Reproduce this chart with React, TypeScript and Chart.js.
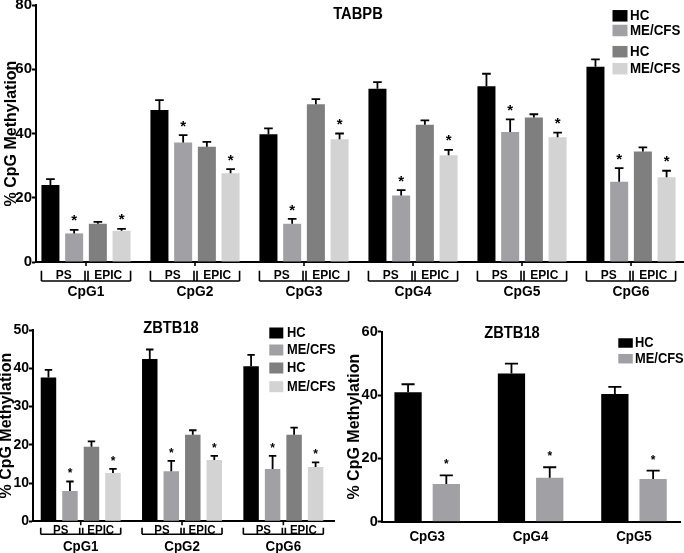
import React, { useEffect, useRef } from 'react';
import { Chart, registerables } from 'chart.js';

Chart.register(...registerables);

const FAMILY = '"Liberation Sans", Arial, Helvetica, sans-serif';

// ---------------- TABPB (top panel) ----------------
const tabpbCategories = ['CpG1', 'CpG2', 'CpG3', 'CpG4', 'CpG5', 'CpG6'];
const tabpbPsHC = [24.0, 47.3, 39.8, 53.9, 54.7, 60.8];
const tabpbPsHCErr = [1.8, 3.1, 1.8, 2.1, 3.9, 2.3];
const tabpbPsME = [8.9, 37.2, 11.9, 20.7, 40.5, 25.0];
const tabpbPsMEErr = [1.1, 2.3, 1.5, 1.7, 3.9, 4.2];
const tabpbEpicHC = [11.9, 35.9, 49.1, 42.7, 45.0, 34.4];
const tabpbEpicHCErr = [0.6, 1.5, 1.6, 1.4, 1.0, 1.3];
const tabpbEpicME = [9.7, 27.6, 38.2, 33.2, 38.8, 26.4];
const tabpbEpicMEErr = [0.6, 1.3, 1.8, 1.7, 1.5, 2.0];
const tabpbYTicks = [0, 20, 40, 60, 80];

// ---------------- ZBTB18 (bottom left, PS vs EPIC) ----------------
const zbtbPlatformCategories = ['CpG1', 'CpG2', 'CpG6'];
const zbtbPsHC = [37.6, 42.4, 40.5];
const zbtbPsHCErr = [2.0, 2.5, 3.0];
const zbtbPsME = [7.9, 13.1, 13.7];
const zbtbPsMEErr = [2.5, 2.7, 3.4];
const zbtbEpicHC = [19.5, 22.6, 22.6];
const zbtbEpicHCErr = [1.4, 1.2, 1.9];
const zbtbEpicME = [12.6, 16.0, 14.2];
const zbtbEpicMEErr = [1.1, 1.1, 1.2];
const zbtbPlatformYTicks = [0, 10, 20, 30, 40, 50];

// ---------------- ZBTB18 (bottom right) ----------------
const zbtbCategories = ['CpG3', 'CpG4', 'CpG5'];
const zbtbHC = [40.9, 46.8, 40.3];
const zbtbHCErr = [2.5, 3.1, 2.3];
const zbtbME = [11.9, 13.9, 13.5];
const zbtbMEErr = [2.7, 3.3, 2.6];
const zbtbYTicks = [0, 20, 40, 60];

const groupLabels = ['HC', 'ME/CFS', 'HC', 'ME/CFS'];
const platformLabels = ['PS', 'EPIC'];
const yAxisTitle = '% CpG Methylation';

const COLORS = ['#000000', '#a1a1a5', '#7f7f7f', '#d3d3d3'];
const SX = 0.92; // slight horizontal text squeeze, as in the source figure

function drawText(ctx: any, s: string, x: number, y: number, size: number, align: string, baseline: string, sx = SX) {
  ctx.save();
  ctx.font = `bold ${size}px ${FAMILY}`;
  ctx.fillStyle = '#000';
  ctx.textAlign = align;
  ctx.textBaseline = baseline;
  ctx.translate(x, y);
  ctx.scale(sx, 1);
  ctx.fillText(s, 0, 0);
  ctx.restore();
}

function makeSeries(values: number[][], errors: number[][], starred: boolean[]) {
  return values.map((v, i) => ({ label: groupLabels[i], values: v, errors: errors[i], color: COLORS[i], star: starred[i] }));
}

const panels: any[] = [
  {
    key: 'tabpb', left: 0, top: 0, width: 684, height: 300,
    categories: tabpbCategories,
    series: makeSeries([tabpbPsHC, tabpbPsME, tabpbEpicHC, tabpbEpicME], [tabpbPsHCErr, tabpbPsMEErr, tabpbEpicHCErr, tabpbEpicMEErr], [false, true, false, true]),
    yTicks: tabpbYTicks, title: 'TABPB',
    xRange: [-0.4587, 5.486], yWidth: 36, xHeight: 38, padTop: 5, padRight: 0,
    catPct: 0.87, barPct: 0.76, yTitlePad: 1.5, yTitleLH: 1.2, yTitleSize: 16, tickSize: 15,
    titlePos: [358, 15], titleSize: 16,
    legendX: 612.5, legendYs: [15.8, 30.5, 51.7, 68.7], legendBox: [15, 11.5], legendTextX: 630, legendSize: 14.5,
    platforms: true, bracketTop: 8.7, bracketBottom: 19, subBaseline: 17.3, subSize: 13,
    catBaseline: 33.8, catSize: 15, starGap: 13, starSize: 15,
  },
  {
    key: 'zbtbA', left: 0, top: 300, width: 340, height: 253,
    categories: zbtbPlatformCategories,
    series: makeSeries([zbtbPsHC, zbtbPsME, zbtbEpicHC, zbtbEpicME], [zbtbPsHCErr, zbtbPsMEErr, zbtbEpicHCErr, zbtbEpicMEErr], [false, true, false, true]),
    yTicks: zbtbPlatformYTicks, title: 'ZBTB18',
    xRange: [-0.471, 2.5], yWidth: 33, xHeight: 31.7, padTop: 30, padRight: 6,
    catPct: 0.849, barPct: 0.72, yTitlePad: 0, yTitleLH: 0.8, yTitleSize: 16, tickSize: 14,
    titlePos: [171, 28.5], titleSize: 16,
    legendX: 269.3, legendYs: [33, 50, 68, 86.7], legendBox: [14, 11], legendTextX: 287, legendSize: 14,
    platforms: true, bracketTop: 6.5, bracketBottom: 13, subBaseline: 12.3, subSize: 12.5,
    catBaseline: 29.3, catSize: 14.5, starGap: 11, starSize: 12,
  },
  {
    key: 'zbtbB', left: 340, top: 300, width: 344, height: 253,
    categories: zbtbCategories,
    series: makeSeries([zbtbHC, zbtbME], [zbtbHCErr, zbtbMEErr], [false, true]),
    yTicks: zbtbYTicks, title: 'ZBTB18',
    xRange: [-0.44, 2.445], yWidth: 41.7, xHeight: 31.3, padTop: 31.7, padRight: 4,
    catPct: 0.74, barPct: 0.713, yTitlePad: 5.4, yTitleLH: 1.2, yTitleSize: 16, tickSize: 14.5,
    titlePos: [172, 33.5], titleSize: 16,
    legendX: 278.3, legendYs: [43, 58.7], legendBox: [14.5, 9.5], legendTextX: 295, legendSize: 14,
    platforms: false, bracketTop: 0, bracketBottom: 0, subBaseline: 0, subSize: 12,
    catBaseline: 19.3, catSize: 14.5, starGap: 14, starSize: 12,
  },
];

function makePlugin(p: any) {
  return {
    id: 'panelDecor_' + p.key,
    afterDatasetsDraw(chart: any) {
      const ctx = chart.ctx;
      const ys = chart.scales.y;
      ctx.save();
      ctx.strokeStyle = '#000';
      ctx.lineWidth = 1.8;
      p.series.forEach((s: any, i: number) => {
        const meta = chart.getDatasetMeta(i);
        meta.data.forEach((el: any, j: number) => {
          const { x, y, width } = el.getProps(['x', 'y', 'width'], true);
          const eTop = ys.getPixelForValue(s.values[j] + s.errors[j]);
          const cap = width * 0.48;
          ctx.beginPath();
          ctx.moveTo(x, y);
          ctx.lineTo(x, eTop);
          ctx.moveTo(x - cap / 2, eTop);
          ctx.lineTo(x + cap / 2, eTop);
          ctx.stroke();
          if (s.star) {
            drawText(ctx, '*', x, eTop - p.starGap + 0.57 * p.starSize, p.starSize, 'center', 'alphabetic', 1);
          }
        });
      });
      ctx.restore();
    },
    afterDraw(chart: any) {
      const ctx = chart.ctx;
      const xs = chart.scales.x;
      const axisY = chart.chartArea.bottom;
      // title
      drawText(ctx, p.title, p.titlePos[0], p.titlePos[1], p.titleSize, 'center', 'middle');
      // legend
      p.series.forEach((s: any, i: number) => {
        const cy = p.legendYs[i];
        ctx.fillStyle = s.color;
        ctx.fillRect(p.legendX, cy - p.legendBox[1] / 2, p.legendBox[0], p.legendBox[1]);
        drawText(ctx, s.label, p.legendTextX, cy, p.legendSize, 'left', 'middle');
      });
      // category labels + platform brackets
      const first = chart.getDatasetMeta(0);
      const last = chart.getDatasetMeta(p.series.length - 1);
      ctx.save();
      ctx.strokeStyle = '#000';
      ctx.lineWidth = 1.6;
      p.categories.forEach((c: string, j: number) => {
        const cx = xs.getPixelForValue(j);
        drawText(ctx, c, cx, axisY + p.catBaseline, p.catSize, 'center', 'alphabetic');
        if (p.platforms) {
          const b0 = first.data[j].getProps(['x', 'width'], true);
          const b1 = last.data[j].getProps(['x', 'width'], true);
          const l = b0.x - b0.width / 2;
          const r = b1.x + b1.width / 2;
          ctx.beginPath();
          ctx.moveTo(cx, axisY);
          ctx.lineTo(cx, axisY + 4);
          [l, cx - 1, cx + 2, r].forEach((vx) => {
            ctx.moveTo(vx, axisY + p.bracketTop);
            ctx.lineTo(vx, axisY + p.bracketBottom);
          });
          ctx.moveTo(l, axisY + p.bracketBottom);
          ctx.lineTo(r, axisY + p.bracketBottom);
          ctx.stroke();
          drawText(ctx, platformLabels[0], (l + cx) / 2, axisY + p.subBaseline, p.subSize, 'center', 'alphabetic');
          drawText(ctx, platformLabels[1], (cx + r) / 2, axisY + p.subBaseline, p.subSize, 'center', 'alphabetic');
        }
      });
      ctx.restore();
    },
  };
}

function buildConfig(p: any): any {
  const yMax = p.yTicks[p.yTicks.length - 1];
  const yStep = p.yTicks[1] - p.yTicks[0];
  return {
    type: 'bar',
    data: {
      datasets: p.series.map((s: any) => ({
        label: s.label,
        data: s.values.map((v: number, j: number) => ({ x: j, y: v })),
        backgroundColor: s.color,
        borderWidth: 0,
        categoryPercentage: p.catPct,
        barPercentage: p.barPct,
      })),
    },
    options: {
      responsive: false,
      animation: false,
      devicePixelRatio: 1,
      events: [],
      layout: { padding: { top: p.padTop, right: p.padRight, left: 0, bottom: 0 } },
      plugins: { legend: { display: false }, tooltip: { enabled: false }, title: { display: false } },
      scales: {
        x: {
          type: 'linear',
          min: p.xRange[0],
          max: p.xRange[1],
          offset: false,
          ticks: { display: false, stepSize: 1, includeBounds: false },
          grid: { display: false },
          border: { display: true, color: '#000', width: 2 },
          afterFit: (s: any) => { s.height = p.xHeight; s.paddingLeft = 0; s.paddingRight = 0; },
        },
        y: {
          type: 'linear',
          min: 0,
          max: yMax,
          ticks: { stepSize: yStep, color: '#000', padding: 0, font: { family: FAMILY, size: p.tickSize, weight: 'bold' } },
          grid: { display: true, drawOnChartArea: false, drawTicks: true, tickLength: 4, tickColor: '#000', tickWidth: 2 },
          border: { display: true, color: '#000', width: 2 },
          title: {
            display: true,
            text: yAxisTitle,
            color: '#000',
            font: { family: FAMILY, size: p.yTitleSize, weight: 'bold', lineHeight: p.yTitleLH },
            padding: { top: p.yTitlePad, bottom: 0 },
          },
          afterFit: (s: any) => { s.width = p.yWidth; s.paddingTop = 0; s.paddingBottom = 0; },
        },
      },
    },
    plugins: [makePlugin(p)],
  };
}

function PanelChart({ panel }: { panel: any }) {
  const ref = useRef<HTMLCanvasElement | null>(null);
  useEffect(() => {
    if (!ref.current) return;
    const chart = new Chart(ref.current, buildConfig(panel));
    return () => chart.destroy();
  }, [panel]);
  return (
    <canvas
      ref={ref}
      width={panel.width}
      height={panel.height}
      style={{ position: 'absolute', left: panel.left, top: panel.top, width: panel.width, height: panel.height }}
    />
  );
}

export default function App() {
  return (
    <div style={{ position: 'fixed', left: 0, top: 0, width: 684, height: 553, background: '#fff', overflow: 'hidden' }}>
      {panels.map((p) => (
        <PanelChart key={p.key} panel={p} />
      ))}
    </div>
  );
}
